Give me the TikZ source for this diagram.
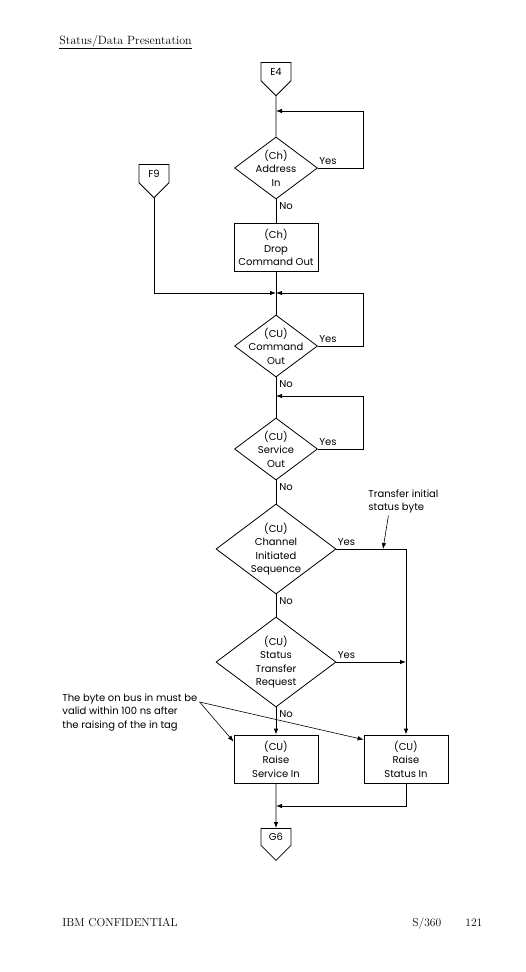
\documentclass[tikz,border=0pt]{standalone}
\usepackage{fontspec}
\usetikzlibrary{positioning,shapes.geometric,shapes.symbols,arrows.meta}
\newfontfamily\chartfont{Poppins}

\tikzset{
  decision/.style={diamond, draw, inner sep=0pt, minimum width=83pt, minimum height=62pt},
  bigdecision/.style={decision, minimum width=120pt, minimum height=90pt},
  dtext/.style={align=center, inner sep=0pt},
  process/.style={rectangle, draw, align=center, inner sep=2pt, minimum width=84pt, minimum height=48pt},
  offpage/.style={signal, signal to=south, draw, inner sep=1pt, minimum width=30pt, minimum height=25pt, anchor=north},
  yes/.style={at start, anchor=south west, inner xsep=1pt, inner ysep=3pt},
  no/.style={at start, anchor=north west, inner sep=3pt},
  note/.style={align=left, inner sep=0pt, anchor=north west},
  page/.style={font=\rmfamily\fontsize{11.5}{14}\selectfont, inner sep=0pt, anchor=base west}
}

\begin{document}
\begin{tikzpicture}[x=1pt, y=-1pt, on grid, line width=0.8pt,
    >={Latex[length=6pt,width=4.5pt]},
    font=\chartfont\fontsize{10}{13.5}\selectfont]
    \useasboundingbox (0,0) rectangle (526,972);
    % heading and footer
    \node[page, font=\rmfamily\fontsize{12}{14}\selectfont] (title) at (59,44) {Status/Data Presentation};
    \draw ([yshift=-4pt]title.base west) -- ([yshift=-4pt]title.base east);
    \node[page] (conf) at (62,926) {IBM CONFIDENTIAL};
    \node[page] (sys) at (412,926) {S/360};
    \node[page] (pgno) at (465,926) {121};
    % main column
    \node[offpage] (e4) at (276,62) {E4};
    \node[decision, label={[dtext]center:{(Ch)\\Address\\In}}] (addr) at (276,168) {};
    \node[process] (drop) [below=79.5pt of addr] {(Ch)\\Drop\\Command Out};
    \node[offpage] (f9) at (154,164) {F9};
    \node[decision, label={[dtext]center:{(CU)\\Command\\Out}}] (cmdout) [below=98.5pt of drop] {};
    \node[decision, label={[dtext]center:{(CU)\\Service\\Out}}] (svcout) [below=103pt of cmdout] {};
    \node[bigdecision, label={[dtext]center:{(CU)\\Channel\\Initiated\\Sequence}}] (chseq) [below=100pt of svcout] {};
    \node[bigdecision, label={[dtext]center:{(CU)\\Status\\Transfer\\Request}}] (stxreq) [below=113pt of chseq] {};
    \node[process] (svcin) [below=97pt of stxreq] {(CU)\\Raise\\Service In};
    \node[process] (stsin) [right=130pt of svcin] {(CU)\\Raise\\Status In};
    \node[offpage] (g6) at (276,828) {G6};
    % junctions
    \coordinate[above=57pt of addr] (j1);
    \coordinate[above=53pt of cmdout] (j2);
    \coordinate[above=53pt of svcout] (j3);
    \coordinate[below=47pt of svcin] (j4);
    \coordinate (j5) at (stxreq.east -| stsin.north);
    \coordinate (xtip) at ([xshift=-23pt]chseq.east -| stsin.north);
    % notes
    \node[note] (xfer) at (368,489) {Transfer initial\\status byte};
    \node[note] (busnote) at (62,693) {The byte on bus in must be\\valid within 100 ns after\\the raising of the in tag};
    \coordinate (nb) at ([xshift=2pt,yshift=-9pt]busnote.north east);
    % connectors
    \draw (e4) -- (addr);
    \draw[->] (addr.east) -- node[yes] {Yes} ++(45,0) |- (j1);
    \draw (addr) -- node[no] {No} (drop);
    \draw (drop) -- (cmdout);
    \draw[->] (f9) |- (j2);
    \draw[->] (cmdout.east) -- node[yes] {Yes} ++(45,0) |- (j2);
    \draw (cmdout) -- node[no] {No} (svcout);
    \draw[->] (svcout.east) -- node[yes] {Yes} ++(45,0) |- (j3);
    \draw (svcout) -- node[no] {No} (chseq);
    \draw[->] (chseq.east) -| node[yes] {Yes} (stsin.north);
    \draw (chseq) -- node[no] {No} (stxreq);
    \draw[->] (stxreq.east) -- node[yes] {Yes} (j5);
    \draw[->] (stxreq) -- node[no] {No} (svcin);
    \draw[->] (svcin) -- (g6);
    \draw[->] (stsin.south) |- (j4);
    \draw[->, line width=0.6pt] ([xshift=-15pt,yshift=-2pt]xfer.south) -- (xtip);
    \draw[->, line width=0.6pt] (nb) -- ([yshift=-7pt]svcin.north west);
    \draw[->, line width=0.6pt] (nb) -- ([yshift=-5pt]stsin.north west);
\end{tikzpicture}
\end{document}
